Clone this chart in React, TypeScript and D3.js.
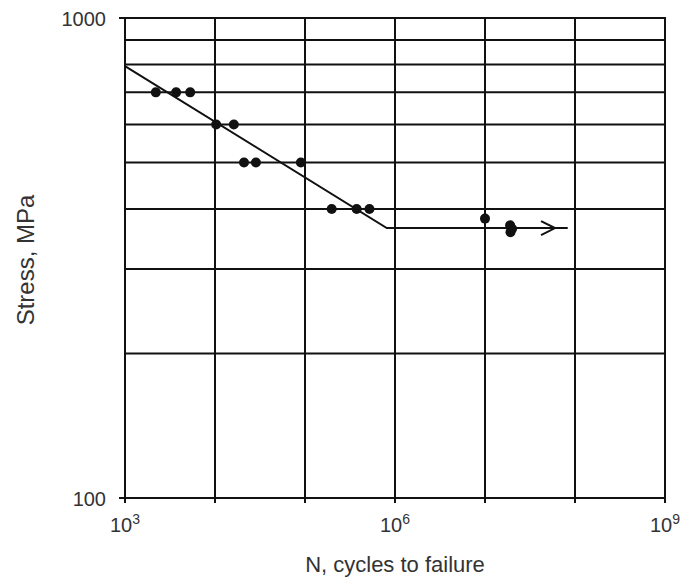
import React from "react";
import * as d3 from "d3";

const decades = [1e3, 1e4, 1e5, 1e6, 1e7, 1e8, 1e9];
const xLabelDecades = [1e3, 1e6, 1e9];
const xLabelExp = ["3", "6", "9"];
const stressGrid = [200, 300, 400, 500, 600, 700, 800, 900, 1000];
const yTickValues = [100, 1000];

const nCycles = [2200, 3700, 5300, 1.03e4, 1.62e4, 2.1e4, 2.85e4, 9.0e4, 1.98e5, 3.75e5, 5.2e5, 1.0e7, 1.9e7, 1.92e7, 2.0e7];
const stress = [700, 700, 700, 600, 600, 500, 500, 500, 400, 400, 400, 382, 370, 358, 364];

const fitN = [1e3, 8.1e5, 8.3e7];
const fitS = [794, 365, 365];
const arrowTipN = 6.0e7;

const W = 684;
const H = 580;
const FONT = "'Liberation Sans', Arial, Helvetica, sans-serif";
const TEXT = "#333";

export default function App() {
  const x = d3.scaleLog().domain([1e3, 1e9]).range([125, 665]);
  const y = d3.scaleLog().domain([100, 1000]).range([498, 18]);
  const [x0, x1] = x.range();
  const [yb, yt] = y.range();

  const line = d3
    .line<number>()
    .x((_, i) => x(fitN[i]))
    .y((_, i) => y(fitS[i]));

  const tipX = x(arrowTipN);
  const tipY = y(fitS[2]);

  return (
    <svg width={W} height={H} style={{ position: "absolute", left: 0, top: 0, background: "#fff" }}>
      <rect width={W} height={H} fill="#fff" />
      {stressGrid.map((s) => (
        <line key={"h" + s} x1={x0} x2={x1} y1={y(s)} y2={y(s)} stroke="#111" strokeWidth={2} />
      ))}
      <line x1={x0} x2={x1} y1={yb} y2={yb} stroke="#111" strokeWidth={2} />
      {decades.map((d) => (
        <line key={"v" + d} x1={x(d)} x2={x(d)} y1={yt - 1} y2={yb + 5} stroke="#111" strokeWidth={2} />
      ))}
      {yTickValues.map((v) => (
        <g key={"yt" + v}>
          <line x1={x0 - 6} x2={x0} y1={y(v)} y2={y(v)} stroke="#111" strokeWidth={2} />
          <text x={106} y={y(v) + 8} textAnchor="end" fontFamily={FONT} fontSize={20} fill={TEXT}>
            {d3.format("d")(v)}
          </text>
        </g>
      ))}
      {xLabelDecades.map((d, i) => (
        <text key={"xl" + d} x={x(d)} y={532} textAnchor="middle" fontFamily={FONT} fontSize={20} fill={TEXT}>
          10
          <tspan fontSize={14} dy={-8}>
            {xLabelExp[i]}
          </tspan>
        </text>
      ))}
      <path d={line(fitN) || ""} fill="none" stroke="#111" strokeWidth={2} />
      <path
        d={`M${tipX - 14},${tipY - 7} L${tipX},${tipY} L${tipX - 14},${tipY + 7}`}
        fill="none"
        stroke="#111"
        strokeWidth={2}
      />
      {nCycles.map((n, i) => (
        <circle key={"p" + i} cx={x(n)} cy={y(stress[i])} r={5} fill="#111" />
      ))}
      <text x={(x0 + x1) / 2} y={572} textAnchor="middle" fontFamily={FONT} fontSize={22} fill={TEXT}>
        N, cycles to failure
      </text>
      <text
        transform={`translate(34,260) rotate(-90)`}
        textAnchor="middle"
        fontFamily={FONT}
        fontSize={24}
        fill={TEXT}
      >
        Stress, MPa
      </text>
    </svg>
  );
}
